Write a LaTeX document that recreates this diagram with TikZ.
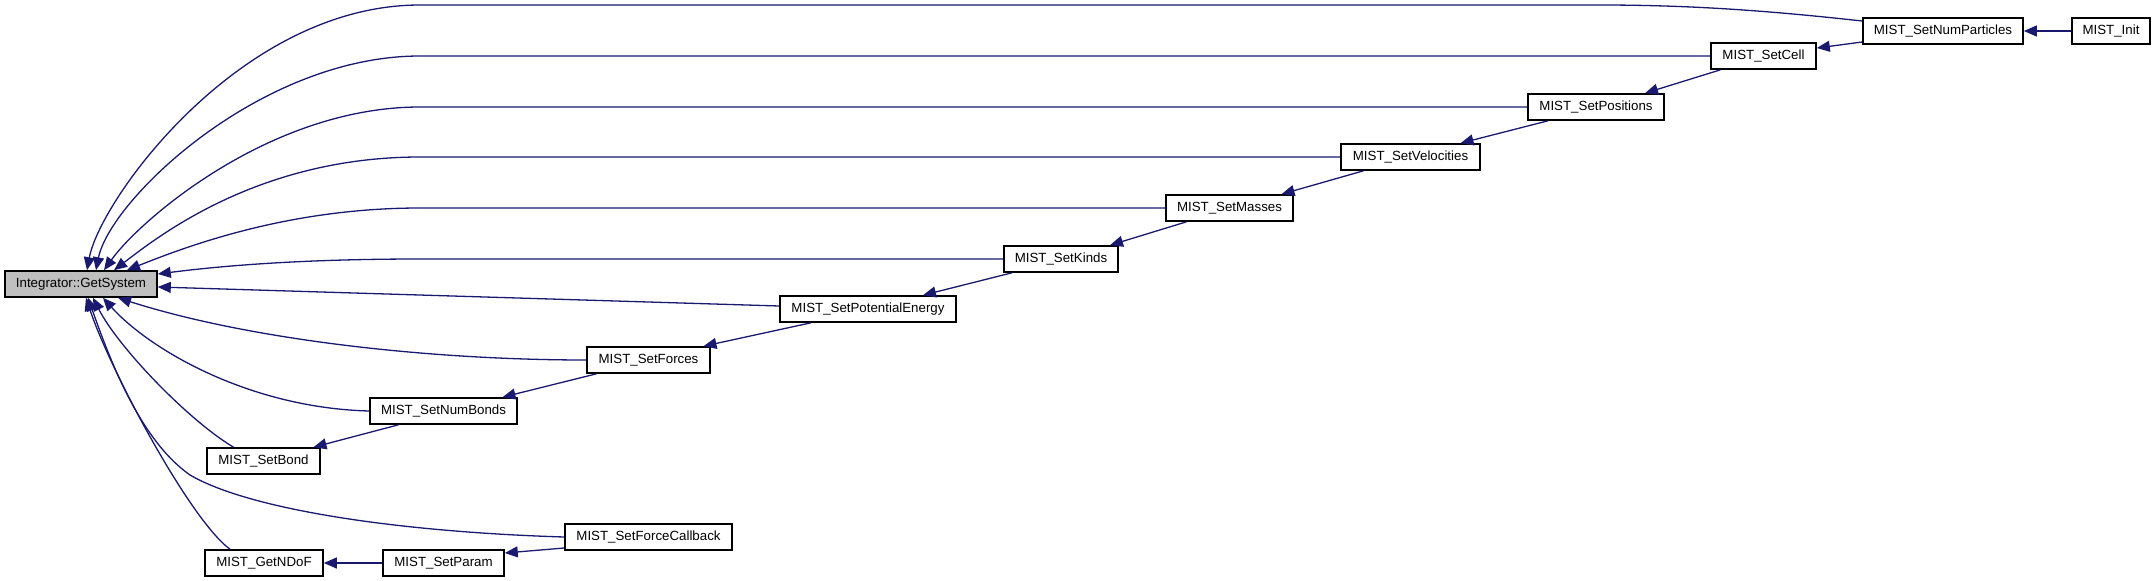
\documentclass[tikz,border=0pt]{standalone}
\usepackage{fontspec}
\setmainfont{Liberation Sans}
\usepackage{tikz}
\usetikzlibrary{
  arrows.meta,
  positioning,
  calc
}
\definecolor{cgEdge}{HTML}{191970}
\definecolor{cgRoot}{HTML}{BFBFBF}
\tikzset{
  fnnode/.style={
    draw=black, line width=1.6pt, fill=white, rectangle, minimum height=26pt,
    inner sep=0pt, font=\fontsize{13.3}{16}\selectfont
  },
  rootnode/.style={fnnode, fill=cgRoot},
  callby/.style={-{Triangle[length=13pt,width=11pt]}, draw=cgEdge, line width=1.3pt}
}

\begin{document}
\begin{tikzpicture}[x=1pt, y=-1pt]
  \useasboundingbox (0,0) rectangle (2156,581);
  % functions
  \node[rootnode, minimum width=152pt] (sys) at (81,284) {Integrator::GetSystem};
  \node[fnnode, minimum width=160pt] (numpart) at (1943,31) {MIST\_SetNumParticles};
  \node[fnnode, minimum width=78pt] (init) at (2111,31) {MIST\_Init};
  \node[fnnode, minimum width=105pt] (cell) at (1763.5,56) {MIST\_SetCell};
  \node[fnnode, minimum width=136pt] (pos) at (1596,107) {MIST\_SetPositions};
  \node[fnnode, minimum width=139pt] (vel) at (1410.5,157) {MIST\_SetVelocities};
  \node[fnnode, minimum width=127pt] (mass) at (1229.5,208) {MIST\_SetMasses};
  \node[fnnode, minimum width=114pt] (kinds) at (1061,259) {MIST\_SetKinds};
  \node[fnnode, minimum width=176pt] (pot) at (868,309) {MIST\_SetPotentialEnergy};
  \node[fnnode, minimum width=123pt] (forces) at (648.5,360) {MIST\_SetForces};
  \node[fnnode, minimum width=147pt] (nbonds) at (443.5,411) {MIST\_SetNumBonds};
  \node[fnnode, minimum width=113pt] (bond) at (263.5,461) {MIST\_SetBond};
  \node[fnnode, minimum width=167pt] (fcb) at (648.5,537) {MIST\_SetForceCallback};
  \node[fnnode, minimum width=118pt] (ndof) at (264,563) {MIST\_GetNDoF};
  \node[fnnode, minimum width=121pt] (param) at (443.5,563) {MIST\_SetParam};

  % callers of GetSystem
  \draw[callby] ([yshift=10pt]numpart.west) .. controls (1780,12) and (1700,5) .. (1600,5)
    -- (420,5) .. controls (240,5) and (100,200) .. ([xshift=6pt]sys.north);
  \draw[callby] (cell.west) -- (420,56) .. controls (260,56) and (110,200) .. ([xshift=15pt]sys.north);
  \draw[callby] (pos.west) -- (420,107) .. controls (270,107) and (140,220) .. ([xshift=23pt]sys.north);
  \draw[callby] (vel.west) -- (420,157) .. controls (260,157) and (160,235) .. ([xshift=33pt]sys.north);
  \draw[callby] (mass.west) -- (420,208) .. controls (290,208) and (190,245) .. ([xshift=46pt]sys.north);
  \draw[callby] (kinds.west) -- (420,259) .. controls (300,259) and (220,266) .. ([yshift=10pt]sys.east);
  \draw[callby] ([yshift=3pt]pot.west) -- ([yshift=-3pt]sys.east);
  \draw[callby] (forces.west) .. controls (430,360) and (250,340) .. ([xshift=37pt]sys.south);
  \draw[callby] (nbonds.west) .. controls (250,408) and (150,350) .. ([xshift=22pt]sys.south);
  \draw[callby] ([xshift=-30pt]bond.north) .. controls (188,420) and (118,347) .. ([xshift=12pt]sys.south);
  \draw[callby] (fcb.west) .. controls (400,532) and (250,510) .. (190,475)
    .. controls (140,440) and (110,360) .. ([xshift=7pt]sys.south);
  \draw[callby] ([xshift=-34pt]ndof.north) .. controls (190,520) and (110,370) .. ([xshift=5pt]sys.south);

  % chains
  \draw[callby] (init.west) -- (numpart.east);
  \draw[callby] ([yshift=-11pt]numpart.west) -- ([yshift=8pt]cell.east);
  \draw[callby] ([xshift=-43pt]cell.south) -- ([xshift=49pt]pos.north);
  \draw[callby] ([xshift=-48pt]pos.south) -- ([xshift=50pt]vel.north);
  \draw[callby] ([xshift=-47pt]vel.south) -- ([xshift=52pt]mass.north);
  \draw[callby] ([xshift=-43pt]mass.south) -- ([xshift=49pt]kinds.north);
  \draw[callby] ([xshift=-49pt]kinds.south) -- ([xshift=55pt]pot.north);
  \draw[callby] ([xshift=-57pt]pot.south) -- ([xshift=55pt]forces.north);
  \draw[callby] ([xshift=-52pt]forces.south) -- ([xshift=59pt]nbonds.north);
  \draw[callby] ([xshift=-45pt]nbonds.south) -- ([xshift=50pt]bond.north);
  \draw[callby] ([yshift=-11pt]fcb.west) -- ([yshift=10pt]param.east);
  \draw[callby] (param.west) -- (ndof.east);
\end{tikzpicture}
\end{document}
